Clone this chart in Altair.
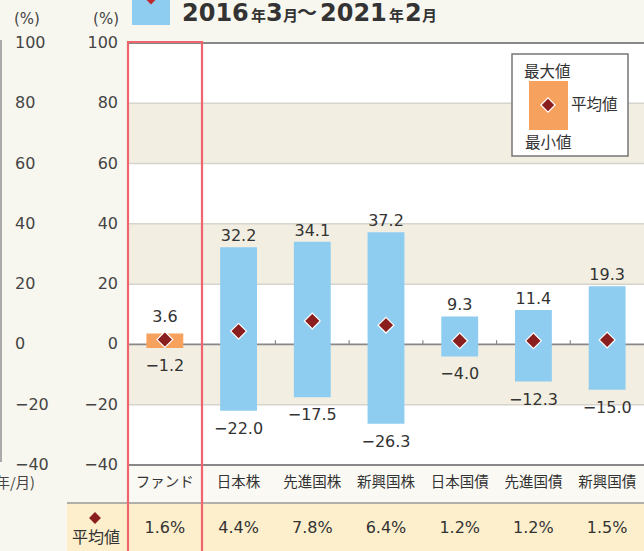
import altair as alt
import pandas as pd

# ---------------- data ----------------
categories = ["ファンド", "日本株", "先進国株", "新興国株", "日本国債", "先進国債", "新興国債"]
max_vals = [3.6, 32.2, 34.1, 37.2, 9.3, 11.4, 19.3]
min_vals = [-1.2, -22.0, -17.5, -26.3, -4.0, -12.3, -15.0]
mean_vals = [1.6, 4.4, 7.8, 6.4, 1.2, 1.2, 1.5]
y_ticks = [100, 80, 60, 40, 20, 0, -20, -40]
light_grid = [80, 60, 40, 20, -20]
dark_grid = [100, 0, -40]
band_lows = [-40, -20, 0, 20, 40, 60, 80]
title_parts = ["2016", "年", "3", "月", "～", "2021", "年", "2", "月"]


def fmt(v):
    return f"{v:.1f}".replace("-", "\u2212")


df = pd.DataFrame({
    "cat": categories,
    "max": max_vals,
    "min": min_vals,
    "mean": mean_vals,
    "max_label": [fmt(v) for v in max_vals],
    "min_label": [fmt(v) for v in min_vals],
    "mean_label": [f"{v:.1f}%" for v in mean_vals],
})

bands = pd.DataFrame({
    "lo": band_lows,
    "hi": [v + 20 for v in band_lows],
    "shade": ["beige" if i % 2 == 1 else "white" for i in range(len(band_lows))],
})

# ---------------- styling ----------------
W, H = 516, 422
STEP = W / 7.0
NUM_FONT = "DejaVu Sans"
JP_FONT = "Noto Sans CJK JP"
TXT = "#333333"
BLUE = "#8ecdf0"
ORANGE = "#f7a15e"
DIAMOND = "#8b1e1e"
BEIGE = "#f2efe2"
RED = "#f0646e"

xs = alt.Scale(domain=categories, paddingInner=0.5, paddingOuter=0.25)
ys = alt.Scale(domain=[-40, 100], nice=False, zero=False)

X = alt.X("cat:N", scale=xs, axis=None, sort=categories)


def note(text, x, y, size, align="left", baseline="alphabetic", weight="normal",
         font=JP_FONT, color=TXT):
    return alt.Chart(pd.DataFrame({"t": [text]})).mark_text(
        align=align, baseline=baseline, fontSize=size, fontWeight=weight,
        font=font, color=color
    ).encode(x=alt.value(x), y=alt.value(y), text="t:N")


def box(x, x2, y, y2, fill, stroke=None, sw=0, fill_opacity=1):
    kw = dict(fill=fill, fillOpacity=fill_opacity)
    if stroke:
        kw.update(stroke=stroke, strokeWidth=sw)
    return alt.Chart(pd.DataFrame({"a": [0]})).mark_rect(**kw).encode(
        x=alt.value(x), x2=alt.value(x2), y=alt.value(y), y2=alt.value(y2))


layers = []

# bottom row backgrounds
layers.append(box(0, W, H, 460, "#faf9f4"))
layers.append(box(-61, W, 460, 520, "#fdefcc"))
layers.append(alt.Chart(pd.DataFrame({"a": [0]})).mark_rule(color="#999999", strokeWidth=1.5).encode(
    x=alt.value(-61), x2=alt.value(W), y=alt.value(460)))

# alternating bands
layers.append(alt.Chart(bands).mark_rect().encode(
    y=alt.Y("lo:Q", scale=ys, axis=None), y2="hi:Q",
    x=alt.value(0), x2=alt.value(W),
    color=alt.Color("shade:N", scale=alt.Scale(domain=["white", "beige"], range=["#ffffff", BEIGE]), legend=None),
))

# gridlines
layers.append(alt.Chart(pd.DataFrame({"v": light_grid})).mark_rule(color="#d6d4cc", strokeWidth=1.5).encode(
    y=alt.Y("v:Q", scale=ys), x=alt.value(0), x2=alt.value(W)))
layers.append(alt.Chart(pd.DataFrame({"v": dark_grid})).mark_rule(color="#888888", strokeWidth=1.8).encode(
    y=alt.Y("v:Q", scale=ys), x=alt.value(0), x2=alt.value(W)))

# small ticks at category boundaries on zero line
layers.append(alt.Chart(pd.DataFrame({"cat": categories[1:], "y0": [0] * 6, "y1": [1.4] * 6})).mark_rule(
    color="#888888", strokeWidth=1.2, xOffset=-STEP * 0.25).encode(
    x=alt.X("cat:N", scale=xs, axis=None, sort=categories, bandPosition=0),
    y=alt.Y("y0:Q", scale=ys), y2="y1:Q"))

# bars
base = alt.Chart(df)
layers.append(base.mark_bar().encode(
    x=X, y=alt.Y("min:Q", scale=ys), y2="max:Q",
    color=alt.condition(alt.datum.cat == "ファンド", alt.value(ORANGE), alt.value(BLUE)),
))

# diamonds (mean)
layers.append(base.mark_point(shape="diamond", filled=True, size=250, fill=DIAMOND, stroke="white",
                              strokeWidth=1.2, opacity=1).encode(x=X, y=alt.Y("mean:Q", scale=ys)))

# value labels
layers.append(base.transform_filter(alt.datum.cat != "ファンド").mark_text(
    baseline="alphabetic", dy=-6, font=NUM_FONT, fontSize=16, color=TXT).encode(
    x=X, y=alt.Y("max:Q", scale=ys), text="max_label:N"))
layers.append(base.transform_filter(alt.datum.cat == "ファンド").mark_text(
    baseline="alphabetic", dy=-12, font=NUM_FONT, fontSize=16, color=TXT).encode(
    x=X, y=alt.Y("max:Q", scale=ys), text="max_label:N"))
layers.append(base.mark_text(baseline="alphabetic", dy=23, font=NUM_FONT, fontSize=16, color=TXT).encode(
    x=X, y=alt.Y("min:Q", scale=ys), text="min_label:N"))

# category labels & mean values row
layers.append(base.mark_text(baseline="middle", font=JP_FONT, fontSize=14.5, color=TXT).encode(
    x=X, y=alt.value(440), text="cat:N"))
layers.append(base.mark_text(baseline="middle", font=NUM_FONT, fontSize=16, color=TXT).encode(
    x=X, y=alt.value(485), text="mean_label:N"))

# y axis labels (inner and outer)
yt = pd.DataFrame({"v": y_ticks, "lab": [str(v).replace("-", "\u2212") for v in y_ticks]})
layers.append(alt.Chart(yt).mark_text(align="right", baseline="middle", font=NUM_FONT, fontSize=16,
                                      color="#444444").encode(
    y=alt.Y("v:Q", scale=ys), x=alt.value(-10), text="lab:N"))
layers.append(alt.Chart(yt).mark_text(align="left", baseline="middle", font=NUM_FONT, fontSize=16,
                                      color="#444444").encode(
    y=alt.Y("v:Q", scale=ys), x=alt.value(-113), text="lab:N"))
layers.append(note("(%)", -9, -19, 15, align="right", font=NUM_FONT, color="#444444"))
layers.append(note("(%)", -114, -19, 15, font=NUM_FONT, color="#444444"))
layers.append(note("(年/月)", -93, 445, 14.5, align="right", color="#444444"))
layers.append(alt.Chart(pd.DataFrame({"a": [0]})).mark_rule(color="#aaaaaa", strokeWidth=2).encode(
    x=alt.value(-127), y=alt.value(-3), y2=alt.value(419)))

# mean row header
layers.append(alt.Chart(pd.DataFrame({"a": [0]})).mark_point(
    shape="diamond", filled=True, size=140, fill=DIAMOND, opacity=1).encode(
    x=alt.value(-33), y=alt.value(475)))
layers.append(note("平均値", -32, 495, 16, align="center", baseline="middle"))

# red highlight frame
layers.append(box(0, 74, -1, 530, "white", stroke=RED, sw=2.2, fill_opacity=0))

# legend box
layers.append(box(384, 500, 11, 113, "white", stroke="#777777", sw=1.5))
layers.append(box(401, 440, 38, 87, ORANGE))
layers.append(alt.Chart(pd.DataFrame({"a": [0]})).mark_point(
    shape="diamond", filled=True, size=200, fill=DIAMOND, stroke="white", strokeWidth=1.2, opacity=1).encode(
    x=alt.value(420), y=alt.value(62)))
layers.append(note("最大値", 396, 29, 15.5, baseline="middle"))
layers.append(note("平均値", 443, 62, 15.5, baseline="middle"))
layers.append(note("最小値", 397, 100, 15.5, baseline="middle"))

# title
layers.append(box(4, 42, -50, -18, BLUE))
layers.append(alt.Chart(pd.DataFrame({"a": [0]})).mark_point(
    shape="diamond", filled=True, size=220, fill="#c0282d", opacity=1).encode(
    x=alt.value(23), y=alt.value(-46)))
title_x = [54, 123, 138, 155, 169, 192, 261, 277, 294]
for part, px in zip(title_parts, title_x):
    if part.isdigit():
        layers.append(note(part, px, -22, 24, weight="bold", font=NUM_FONT, color="#333333"))
    elif part == "～":
        layers.append(note(part, px, -23, 20, weight="bold", color="#333333"))
    else:
        layers.append(note(part, px, -22, 15, weight="bold", color="#333333"))

chart = alt.layer(*layers).properties(
    width=W, height=H,
    padding={"left": 128, "top": 43, "right": 0, "bottom": 86},
    autosize=alt.AutoSizeParams(type="none"),
    background="#f8f7ef",
).configure_view(stroke=None)

chart.save("out.html", embed_options={"renderer": "svg", "actions": False})
